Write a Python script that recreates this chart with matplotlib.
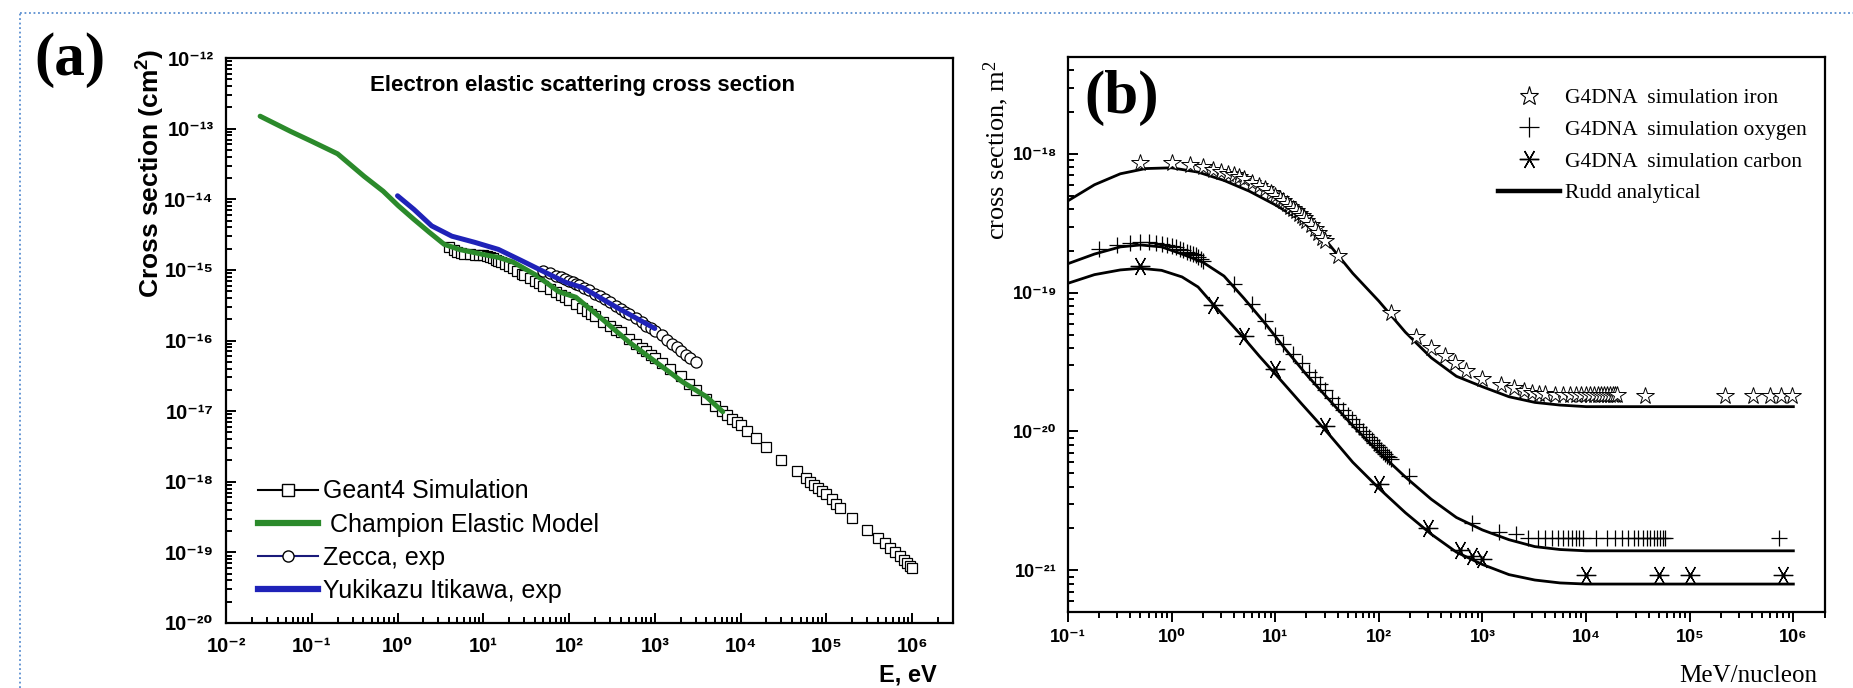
"""Elastic electron and ion impact cross sections compared with Geant4-DNA."""

import matplotlib

matplotlib.use("Agg")
import matplotlib.pyplot as plt
import numpy as np
from matplotlib.lines import Line2D
from matplotlib.ticker import FixedLocator, FuncFormatter, LogLocator, NullFormatter

SANS = "Liberation Sans"
SERIF = "Liberation Serif"

GREEN = "#2b8a2b"
BLUE = "#1f22b8"
NAVY = "#1a1a7a"
BORDER = "#5b8fd0"

# ---- (a) electron elastic scattering, E [eV], sigma [cm^2] ----
geant4_energy = [4, 4.5, 5, 5.5, 6, 7, 8, 9, 10, 11, 12, 13, 14, 15, 16, 18, 20, 22, 25, 28,
                 30, 35, 40, 45, 50, 60, 70, 80, 90, 100, 120, 140, 160, 180, 200, 250, 300,
                 350, 400, 500, 600, 700, 800, 900, 1000, 1200, 1500, 2000, 2500, 3000, 4000,
                 5000, 6000, 7000, 8000, 9000, 10000, 12000, 15000, 20000, 30000, 45000,
                 58000, 65000, 72000, 80000, 90000, 100000, 115000, 130000, 145000, 200000,
                 300000, 400000, 480000, 560000, 640000, 720000, 800000, 880000, 950000, 1000000]
geant4_sigma = [2.1e-15, 1.9e-15, 1.8e-15, 1.75e-15, 1.7e-15, 1.68e-15, 1.65e-15, 1.62e-15,
                1.6e-15, 1.55e-15, 1.5e-15, 1.45e-15, 1.4e-15, 1.35e-15, 1.3e-15, 1.2e-15,
                1.12e-15, 1.05e-15, 9.6e-16, 8.8e-16, 8.4e-16, 7.6e-16, 7.0e-16, 6.5e-16,
                6.0e-16, 5.3e-16, 4.8e-16, 4.4e-16, 4.1e-16, 3.8e-16, 3.3e-16, 2.9e-16,
                2.6e-16, 2.4e-16, 2.2e-16, 1.85e-16, 1.6e-16, 1.42e-16, 1.3e-16, 1.05e-16,
                9.0e-17, 7.9e-17, 7.0e-17, 6.2e-17, 5.6e-17, 4.8e-17, 3.9e-17, 3.1e-17,
                2.4e-17, 2.0e-17, 1.48e-17, 1.2e-17, 1.0e-17, 8.7e-18, 7.8e-18, 7.0e-18,
                6.3e-18, 5.2e-18, 4.2e-18, 3.1e-18, 2.0e-18, 1.4e-18, 1.12e-18, 1.0e-18,
                9.0e-19, 8.2e-19, 7.3e-19, 6.6e-19, 5.7e-19, 4.9e-19, 4.3e-19, 3.1e-19,
                2.05e-19, 1.62e-19, 1.35e-19, 1.15e-19, 1.0e-19, 8.8e-20, 7.8e-20, 7.0e-20,
                6.5e-20, 6.0e-20]

champion_energy = [0.025, 0.057, 0.1, 0.2, 0.41, 0.68, 1.02, 1.55, 2.35, 3.5, 5.2, 9.8, 15,
                   22, 42, 76, 120, 245, 500, 1020, 2100, 4000, 6200]
champion_sigma = [1.5e-13, 9.1e-14, 6.6e-14, 4.4e-14, 2.1e-14, 1.3e-14, 8.1e-15, 5.2e-15,
                  3.4e-15, 2.3e-15, 1.95e-15, 1.66e-15, 1.5e-15, 1.3e-15, 8.3e-16, 4.9e-16,
                  4.1e-16, 2.0e-16, 9.5e-17, 5.0e-17, 2.6e-17, 1.6e-17, 9.8e-18]

zecca_energy = [50, 60, 70, 80, 90, 100, 110, 120, 130, 150, 170, 200, 230, 260, 300, 350,
                400, 450, 500, 600, 700, 800, 900, 1000, 1200, 1400, 1600, 1800, 2000, 2300,
                2600, 3000]
zecca_sigma = [9.5e-16, 8.9e-16, 8.3e-16, 7.8e-16, 7.4e-16, 7.0e-16, 6.7e-16, 6.4e-16,
               6.1e-16, 5.6e-16, 5.2e-16, 4.6e-16, 4.2e-16, 3.85e-16, 3.5e-16, 3.1e-16,
               2.8e-16, 2.55e-16, 2.35e-16, 2.05e-16, 1.8e-16, 1.62e-16, 1.48e-16, 1.38e-16,
               1.18e-16, 1.02e-16, 9.0e-17, 8.0e-17, 7.2e-17, 6.3e-17, 5.6e-17, 5.0e-17]

itikawa_energy = [1, 1.55, 2.5, 4.3, 8, 15, 28, 55, 93, 145, 350, 1000]
itikawa_sigma = [1.12e-14, 7.2e-15, 4.2e-15, 3.0e-15, 2.45e-15, 1.95e-15, 1.35e-15, 9.0e-16,
                 6.6e-16, 5.6e-16, 3.0e-16, 1.48e-16]

# ---- (b) ion impact, E [MeV/nucleon], sigma [m^2] ----
rudd_iron_energy = [0.1, 0.18, 0.32, 0.56, 1.0, 1.8, 3.2, 5.6, 10, 18, 32, 56, 100, 180, 320,
                    560, 1000, 1800, 3200, 5600, 10000, 1000000]
rudd_iron_sigma = [4.6e-19, 6.0e-19, 7.2e-19, 7.85e-19, 7.95e-19, 7.4e-19, 6.45e-19, 5.4e-19,
                   4.3e-19, 3.3e-19, 2.3e-19, 1.38e-19, 8.7e-20, 5.2e-20, 3.4e-20, 2.5e-20,
                   2.1e-20, 1.78e-20, 1.62e-20, 1.55e-20, 1.51e-20, 1.51e-20]

rudd_oxygen_energy = [0.1, 0.18, 0.32, 0.5, 0.8, 1.26, 2.0, 3.2, 5.0, 8.0, 12.6, 20, 32, 56,
                      100, 180, 320, 560, 1000, 1800, 3200, 5600, 10000, 1000000]
rudd_oxygen_sigma = [1.62e-19, 1.9e-19, 2.14e-19, 2.21e-19, 2.14e-19, 1.9e-19, 1.66e-19,
                     1.32e-19, 9.1e-20, 6.0e-20, 3.9e-20, 2.57e-20, 1.74e-20, 1.1e-20, 7.1e-21,
                     4.7e-21, 3.25e-21, 2.4e-21, 1.95e-21, 1.66e-21, 1.48e-21, 1.41e-21,
                     1.38e-21, 1.38e-21]

rudd_carbon_energy = [0.1, 0.18, 0.32, 0.5, 0.8, 1.26, 1.8, 2.5, 3.5, 5.0, 7.0, 10, 18, 32, 56,
                      100, 180, 320, 560, 1000, 1800, 3200, 5600, 10000, 1000000]
rudd_carbon_sigma = [1.17e-19, 1.35e-19, 1.46e-19, 1.5e-19, 1.45e-19, 1.3e-19, 1.1e-19,
                     8.3e-20, 6.3e-20, 4.7e-20, 3.5e-20, 2.6e-20, 1.58e-20, 9.8e-21, 6.0e-21,
                     3.9e-21, 2.6e-21, 1.82e-21, 1.35e-21, 1.1e-21, 9.3e-22, 8.5e-22, 8.1e-22,
                     7.95e-22, 7.95e-22]

g4_iron_energy = [0.5, 1.0, 1.5, 2.0, 2.5, 3.0, 3.5, 4.0, 4.5, 5.0, 6, 7, 8, 9, 10, 11, 12, 13,
                  14, 15, 16, 17, 18, 19, 20, 22, 24, 26, 28, 30, 40, 130, 230, 320, 430, 540,
                  700, 1000, 1500, 2000, 2500, 3000, 3500, 4000, 5000, 6000, 7000, 8000, 9000,
                  10000, 11000, 12000, 13000, 14000, 15000, 16000, 17000, 18000, 19000, 20000,
                  37000, 220000, 410000, 590000, 760000, 980000]
g4_iron_sigma = [8.6e-19, 8.6e-19, 8.3e-19, 8.0e-19, 7.7e-19, 7.45e-19, 7.2e-19, 7.0e-19,
                 6.8e-19, 6.6e-19, 6.2e-19, 5.85e-19, 5.55e-19, 5.25e-19, 5.0e-19, 4.75e-19,
                 4.55e-19, 4.35e-19, 4.15e-19, 4.0e-19, 3.85e-19, 3.7e-19, 3.55e-19, 3.45e-19,
                 3.3e-19, 3.1e-19, 2.9e-19, 2.7e-19, 2.5e-19, 2.35e-19, 1.85e-19, 7.1e-20,
                 4.8e-20, 4.0e-20, 3.5e-20, 3.1e-20, 2.75e-20, 2.4e-20, 2.15e-20, 2.05e-20,
                 1.95e-20, 1.9e-20, 1.87e-20, 1.85e-20, 1.82e-20, 1.82e-20, 1.82e-20, 1.82e-20,
                 1.82e-20, 1.82e-20, 1.82e-20, 1.82e-20, 1.82e-20, 1.82e-20, 1.82e-20, 1.82e-20,
                 1.82e-20, 1.82e-20, 1.82e-20, 1.82e-20, 1.8e-20, 1.8e-20, 1.8e-20, 1.8e-20,
                 1.8e-20, 1.8e-20]

g4_oxygen_energy = [0.2, 0.3, 0.4, 0.5, 0.6, 0.7, 0.8, 0.9, 1.0, 1.1, 1.2, 1.3, 1.4, 1.5, 1.6,
                    1.7, 1.8, 1.9, 2.0, 4, 6, 8, 10, 12, 15, 18, 21, 24, 27, 30, 35, 40, 45, 50,
                    55, 60, 65, 70, 75, 80, 85, 90, 95, 100, 105, 110, 115, 120, 125, 130, 195,
                    800, 1450, 2100, 2750, 3400, 4050, 4700, 5350, 6000, 6650, 7300, 7950, 8600,
                    9250, 12500, 15750, 19000, 22250, 25500, 28750, 32000, 35250, 38500, 41750,
                    45000, 48250, 51500, 54750, 58000, 720000]
g4_oxygen_sigma = [2.06e-19, 2.2e-19, 2.3e-19, 2.34e-19, 2.33e-19, 2.3e-19, 2.26e-19,
                   2.22e-19, 2.17e-19, 2.12e-19, 2.07e-19, 2.02e-19, 1.98e-19, 1.94e-19,
                   1.9e-19, 1.86e-19, 1.8e-19, 1.75e-19, 1.7e-19, 1.15e-19, 8.3e-20, 6.3e-20,
                   5.0e-20, 4.3e-20, 3.6e-20, 3.1e-20, 2.7e-20, 2.45e-20, 2.2e-20, 2.0e-20,
                   1.75e-20, 1.58e-20, 1.43e-20, 1.32e-20, 1.22e-20, 1.14e-20, 1.07e-20,
                   1.01e-20, 9.6e-21, 9.1e-21, 8.7e-21, 8.3e-21, 8.0e-21, 7.7e-21, 7.4e-21,
                   7.1e-21, 6.9e-21, 6.7e-21, 6.5e-21, 6.3e-21, 4.8e-21, 2.2e-21, 1.9e-21,
                   1.82e-21, 1.7e-21, 1.7e-21, 1.7e-21, 1.7e-21, 1.7e-21, 1.7e-21, 1.7e-21,
                   1.7e-21, 1.7e-21, 1.7e-21, 1.7e-21, 1.7e-21, 1.7e-21, 1.7e-21, 1.7e-21,
                   1.7e-21, 1.7e-21, 1.7e-21, 1.7e-21, 1.7e-21, 1.7e-21, 1.7e-21, 1.7e-21,
                   1.7e-21, 1.7e-21, 1.7e-21, 1.7e-21]

g4_carbon_energy = [0.5, 2.5, 5, 10, 30, 100, 300, 600, 800, 1000, 10000, 50000, 100000, 800000]
g4_carbon_sigma = [1.55e-19, 8.1e-20, 4.9e-20, 2.8e-20, 1.1e-20, 4.2e-21, 2.0e-21, 1.4e-21,
                   1.26e-21, 1.2e-21, 9.3e-22, 9.3e-22, 9.3e-22, 9.3e-22]

# labelled decades on each axis
a_x_decades = range(-2, 7)
a_y_decades = range(-20, -11)
b_x_decades = range(-1, 7)
b_y_decades = range(-21, -17)

ASTERISK = (6, 2, 90)
SUPERSCRIPT = str.maketrans("-0123456789", "⁻⁰¹²³⁴⁵⁶⁷⁸⁹")

plt.rcParams["font.family"] = [SANS, "DejaVu Sans"]
plt.rcParams["font.weight"] = "bold"


def power_label(value, _pos):
    exponent = str(int(round(np.log10(value))))
    return "10" + exponent.translate(SUPERSCRIPT)


def setup_log_axes(ax, x_decades, y_decades, labelsize, x_dir, xpad, ypad):
    ax.set_xscale("log")
    ax.set_yscale("log")
    for axis, decades in ((ax.xaxis, x_decades), (ax.yaxis, y_decades)):
        axis.set_major_locator(FixedLocator([10.0 ** d for d in decades]))
        axis.set_minor_locator(LogLocator(base=10, subs=np.arange(2, 10) * 1.0, numticks=300))
        axis.set_major_formatter(FuncFormatter(power_label))
        axis.set_minor_formatter(NullFormatter())
    ax.tick_params(axis="x", which="both", direction=x_dir, top=False, labelsize=labelsize,
                   pad=xpad, width=1.4)
    ax.tick_params(axis="y", which="both", direction="in", right=False, labelsize=labelsize,
                   pad=ypad, width=1.4)
    ax.tick_params(which="major", length=7.5)
    ax.tick_params(which="minor", length=4)
    for spine in ax.spines.values():
        spine.set_linewidth(1.6)


def px(x, y):
    return x / 1853, 1 - y / 688


fig = plt.figure(figsize=(18.53, 6.88), dpi=100)

# ---------------- panel (a) ----------------
ax_a = fig.add_axes([226 / 1853, 65 / 688, 727 / 1853, 565 / 688])
setup_log_axes(ax_a, a_x_decades, a_y_decades, 14.5, "in", 10, 9)
ax_a.set_xlim(1e-2, 3e6)
ax_a.set_ylim(1e-20, 1e-12)

ax_a.plot(geant4_energy, geant4_sigma, ls="none", marker="s", ms=7.5, mfc="white",
          mec="black", mew=0.9, zorder=2)
ax_a.plot(champion_energy, champion_sigma, color=GREEN, lw=3.6, zorder=3,
          solid_capstyle="round")
ax_a.plot(zecca_energy, zecca_sigma, ls="none", marker="o", ms=8, mfc="white",
          mec="black", mew=0.9, zorder=4)
ax_a.plot(itikawa_energy, itikawa_sigma, color=BLUE, lw=3.6, zorder=5,
          solid_capstyle="round")

legend_a = [
    Line2D([], [], color="black", lw=1.5, marker="s", ms=8, mfc="white", mec="black"),
    Line2D([], [], color=GREEN, lw=4.5),
    Line2D([], [], color=NAVY, lw=1.5, marker="o", ms=8, mfc="white", mec="black"),
    Line2D([], [], color=BLUE, lw=4.5),
]
ax_a.legend(legend_a, ["Geant4 Simulation", " Champion Elastic Model", "Zecca, exp",
                       "Yukikazu Itikawa, exp"],
            loc="lower left", bbox_to_anchor=(0.044, 0.035), frameon=False, borderpad=0,
            borderaxespad=0, handlelength=2.4, handletextpad=0.2, labelspacing=0.37,
            prop={"family": SANS, "weight": "normal", "size": 18})

fig.text(*px(582, 85), "Electron elastic scattering cross section", ha="center",
         va="center", fontsize=16, fontweight="bold")
fig.text(*px(151, 173), r"Cross section (cm$\mathregular{^2}$)", rotation=90, ha="center",
         va="center", fontsize=19, fontweight="bold")
fig.text(*px(937, 675), "E, eV", ha="right", va="center", fontsize=17, fontweight="bold")
fig.text(*px(70, 60), "(a)", ha="center", va="center", fontsize=44, fontweight="bold",
         family=SERIF)

# ---------------- panel (b) ----------------
ax_b = fig.add_axes([1068 / 1853, 76 / 688, 757 / 1853, 555 / 688])
setup_log_axes(ax_b, b_x_decades, b_y_decades, 13, "out", 5, 8)
ax_b.set_xlim(1e-1, 2.02e6)
ax_b.set_ylim(5e-22, 5e-18)

for energy, sigma in [(rudd_iron_energy, rudd_iron_sigma),
                      (rudd_oxygen_energy, rudd_oxygen_sigma),
                      (rudd_carbon_energy, rudd_carbon_sigma)]:
    ax_b.plot(energy, sigma, color="black", lw=2.0, zorder=2)

ax_b.plot(g4_iron_energy, g4_iron_sigma, ls="none", marker="*", ms=13, mfc="white",
          mec="black", mew=0.7, zorder=3)
ax_b.plot(g4_oxygen_energy, g4_oxygen_sigma, ls="none", marker="+", ms=12, mec="black",
          mew=0.9, zorder=3)
ax_b.plot(g4_carbon_energy, g4_carbon_sigma, ls="none", marker=ASTERISK, ms=14,
          mec="black", mew=0.9, zorder=3)
ax_b.plot(g4_carbon_energy, g4_carbon_sigma, ls="none", marker="o", ms=2.2, color="black",
          zorder=4)

legend_b = [
    Line2D([], [], ls="none", marker="*", ms=14, mfc="white", mec="black", mew=0.8),
    Line2D([], [], ls="none", marker="+", ms=14, mec="black", mew=0.9),
    Line2D([], [], ls="none", marker=ASTERISK, ms=14, mec="black", mew=1.0),
    Line2D([], [], color="black", lw=3.2),
]
ax_b.legend(legend_b, ["G4DNA  simulation iron", "G4DNA  simulation oxygen",
                       "G4DNA  simulation carbon", "Rudd analytical"],
            loc="upper left", bbox_to_anchor=(0.568, 0.944), frameon=False, borderpad=0,
            borderaxespad=0, handlelength=2.9, handletextpad=0.2, labelspacing=0.54,
            prop={"family": SERIF, "weight": "normal", "size": 15.5})

fig.text(*px(996, 150), r"cross section, m$\mathregular{^2}$", rotation=90, ha="center",
         va="center", fontsize=19, fontweight="normal", family=SERIF)
fig.text(*px(1817, 676), "MeV/nucleon", ha="right", va="center", fontsize=18,
         fontweight="normal", family=SERIF)
fig.text(*px(1122, 98), "(b)", ha="center", va="center", fontsize=44, fontweight="bold",
         family=SERIF)

# dotted frame along the top and left edges
fig.add_artist(Line2D([20 / 1853, 1], [1 - 13 / 688] * 2, transform=fig.transFigure,
                      ls=(0, (1, 1.5)), lw=1.3, color=BORDER))
fig.add_artist(Line2D([20 / 1853] * 2, [0, 1 - 13 / 688], transform=fig.transFigure,
                      ls=(0, (1, 1.5)), lw=1.3, color=BORDER))

fig.savefig("out.png", dpi=100)
